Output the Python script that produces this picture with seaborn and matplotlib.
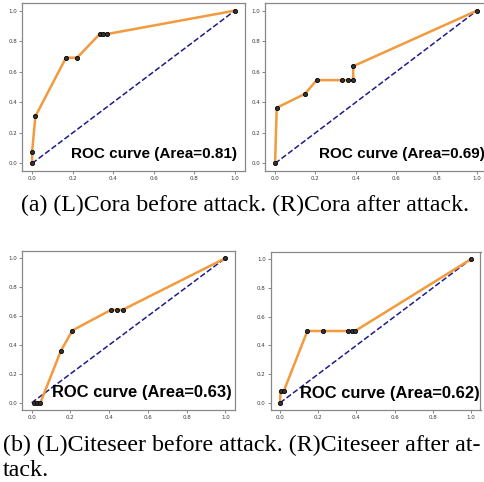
import matplotlib
matplotlib.use("Agg")
import matplotlib.pyplot as plt
import seaborn as sns
import pandas as pd

# ROC points
cora_before_fpr = [0.0, 0.0, 0.016, 0.167, 0.222, 0.333, 0.35, 0.367, 1.0]
cora_before_tpr = [0.0, 0.077, 0.308, 0.692, 0.692, 0.846, 0.846, 0.846, 1.0]

cora_after_fpr = [0.0, 0.008, 0.148, 0.206, 0.33, 0.36, 0.387, 0.387, 1.0]
cora_after_tpr = [0.0, 0.364, 0.455, 0.545, 0.545, 0.545, 0.545, 0.636, 1.0]

citeseer_before_fpr = [0.01, 0.03, 0.045, 0.15, 0.21, 0.41, 0.44, 0.47, 1.0]
citeseer_before_tpr = [0.0, 0.0, 0.0, 0.357, 0.5, 0.643, 0.643, 0.643, 1.0]

citeseer_after_fpr = [0.0, 0.003, 0.02, 0.143, 0.223, 0.358, 0.375, 0.393, 1.0]
citeseer_after_tpr = [0.0, 0.083, 0.083, 0.5, 0.5, 0.5, 0.5, 0.5, 1.0]

areas = [0.81, 0.69, 0.63, 0.62]

W, H = 485, 482
fig = plt.figure(figsize=(W / 100, H / 100), dpi=100)


def px_rect(left, top, right, bottom):
    return [left / W, 1 - bottom / H, (right - left) / W, (bottom - top) / H]


panels = [
    (cora_before_fpr, cora_before_tpr, areas[0], px_rect(22, 3, 245, 171), 0.964, 0.10, 11.0),
    (cora_after_fpr, cora_after_tpr, areas[1], px_rect(265, 3, 487, 171), 0.99, 0.10, 11.0),
    (citeseer_before_fpr, citeseer_before_tpr, areas[2], px_rect(22, 251, 235, 410), 0.986, 0.107, 11.9),
    (citeseer_after_fpr, citeseer_after_tpr, areas[3], px_rect(270.5, 252, 480.5, 410), 0.998, 0.107, 11.9),
]

for fpr, tpr, area, rect, tx, ty, fs in panels:
    ax = fig.add_axes(rect)
    df = pd.DataFrame({"fpr": fpr, "tpr": tpr})
    diag = pd.DataFrame({"x": [0.0, 1.0], "y": [0.0, 1.0]})
    sns.lineplot(data=diag, x="x", y="y", ax=ax, color="#1c1c8a",
                 linestyle="--", linewidth=1.1, zorder=2)
    sns.lineplot(data=df, x="fpr", y="tpr", ax=ax, sort=False, estimator=None,
                 color="#f29a3c", linewidth=1.8, zorder=3)
    sns.scatterplot(data=df, x="fpr", y="tpr", ax=ax, color="#333333",
                    edgecolor="black", s=9, linewidth=0.6, zorder=4)
    ax.set_xlabel("")
    ax.set_ylabel("")
    ax.set_xticks([0.0, 0.2, 0.4, 0.6, 0.8, 1.0])
    ax.set_yticks([0.0, 0.2, 0.4, 0.6, 0.8, 1.0])
    ax.tick_params(labelsize=4.0, length=2.2, width=0.5, pad=1.2,
                   colors="#555555", labelcolor="#3a3a3a")
    for sp in ax.spines.values():
        sp.set_edgecolor("#888888")
        sp.set_linewidth(0.9)
    ax.text(tx, ty, f"ROC curve (Area={area:.2f})", transform=ax.transAxes,
            ha="right", va="center", fontsize=fs, fontweight="bold",
            family="Liberation Sans", color="black", zorder=5)

serif = "Liberation Serif"
fig.text(0.505, 1 - 211 / H, "(a) (L)Cora before attack. (R)Cora after attack.",
         ha="center", va="baseline", fontsize=17.2, family=serif)
fig.text(3 / W, 1 - 451 / H, "(b) (L)Citeseer before attack. (R)Citeseer after at-",
         ha="left", va="baseline", fontsize=17.3, family=serif)
fig.text(3 / W, 1 - 476 / H, "tack.",
         ha="left", va="baseline", fontsize=17.3, family=serif)

fig.savefig("out.png", dpi=100)
